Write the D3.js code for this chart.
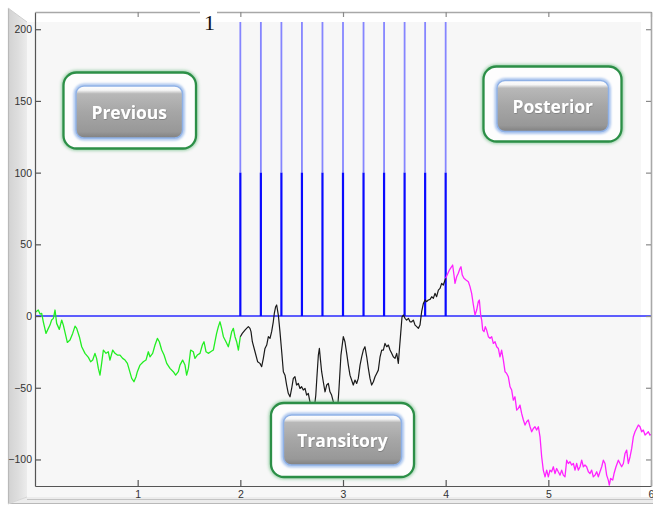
<!DOCTYPE html>
<html>
<head>
<meta charset="utf-8">
<script src="https://cdn.jsdelivr.net/npm/d3@7/dist/d3.min.js"></script>
<style>
  html, body { margin: 0; padding: 0; background: #ffffff; }
  svg { display: block; }
</style>
</head>
<body>
<svg id="chart" width="653" height="506"></svg>
<script>
// ---- data -------------------------------------------------------------
// time axis ticks and value axis ticks
const xTicks = [1, 2, 3, 4, 5, 6];
const yTicks = [-100, -50, 0, 50, 100, 150, 200];

// stimulus pulses (time of each pulse) and the pulse amplitude
const pulseTimes = [2.0, 2.2, 2.4, 2.6, 2.8, 3.0, 3.2, 3.4, 3.6, 3.8, 4.0];
const pulseLevel = 100;

// signal before the stimulation window  [time, value]
const previousTrace = [
  [0.00, 2.0], [0.01, 3.0], [0.032, 4.2], [0.049, 1.4], [0.065, 1.9], [0.081, -4.0],
  [0.107, -12.1], [0.13, -8.6], [0.146, -6.3], [0.162, -2.8], [0.179, -1.6], [0.195, 4.2],
  [0.211, -5.1], [0.237, -9.3], [0.26, -2.8], [0.276, -6.3], [0.302, -14.4], [0.315, -18.4],
  [0.341, -16.7], [0.367, -12.1], [0.39, -7.0], [0.406, -8.6], [0.432, -14.4], [0.455, -21.4],
  [0.487, -26.0], [0.52, -28.8], [0.542, -31.9], [0.562, -30.7], [0.584, -26.0], [0.60, -29.5],
  [0.617, -36.5], [0.633, -41.2], [0.649, -33.0], [0.666, -23.7], [0.692, -26.0], [0.714, -24.9],
  [0.73, -30.7], [0.757, -23.7], [0.779, -26.0], [0.802, -27.2], [0.828, -27.2], [0.854, -29.5],
  [0.877, -30.7], [0.90, -33.0], [0.919, -37.7], [0.942, -43.5], [0.964, -45.8], [0.984, -42.3],
  [0.997, -38.8], [1.023, -34.2], [1.055, -31.9], [1.081, -30.7], [1.104, -24.9], [1.12, -28.4],
  [1.146, -26.0], [1.169, -20.2], [1.192, -15.6], [1.211, -17.9], [1.234, -23.7], [1.257, -27.2],
  [1.283, -33.0], [1.315, -36.5], [1.347, -38.8], [1.37, -41.2], [1.396, -38.8], [1.412, -34.2],
  [1.438, -30.7], [1.461, -34.2], [1.477, -41.2], [1.494, -36.5], [1.516, -23.7], [1.542, -24.9],
  [1.558, -29.5], [1.581, -27.2], [1.607, -26.0], [1.63, -20.2], [1.646, -17.9], [1.666, -24.9],
  [1.688, -26.0], [1.711, -24.9], [1.737, -23.7], [1.753, -17.9], [1.769, -12.1], [1.786, -7.4],
  [1.802, -4.0], [1.818, -8.6], [1.835, -14.4], [1.86, -17.9], [1.883, -21.4], [1.899, -16.7],
  [1.916, -10.9], [1.932, -8.6], [1.948, -14.4], [1.964, -17.9], [1.981, -23.7], [2.0, -14.4]
];

// signal during the stimulation window
const transitoryTrace = [
  [2.0, -14.4], [2.019, -12.1], [2.045, -9.8], [2.061, -8.6], [2.078, -7.4], [2.094, -8.6],
  [2.104, -10.9], [2.117, -17.9], [2.143, -24.9], [2.169, -31.9], [2.191, -33.0], [2.208, -35.3],
  [2.224, -29.5], [2.24, -22.6], [2.257, -20.2], [2.273, -14.4], [2.289, -15.6], [2.305, -10.9],
  [2.321, -4.0], [2.331, 1.9], [2.344, 6.5], [2.354, 7.7], [2.37, 0.7], [2.386, -10.9],
  [2.403, -24.9], [2.419, -38.8], [2.435, -41.2], [2.451, -48.1], [2.467, -53.9], [2.484, -56.3],
  [2.50, -50.5], [2.516, -43.5], [2.532, -42.3], [2.548, -48.1], [2.565, -47.0], [2.581, -50.5],
  [2.597, -49.3], [2.613, -51.6], [2.63, -50.5], [2.646, -55.1], [2.662, -53.9], [2.678, -59.8],
  [2.695, -62.1], [2.705, -65.6], [2.715, -68.0], [2.735, -55.1], [2.745, -43.5], [2.76, -27.2],
  [2.77, -22.6], [2.779, -29.5], [2.792, -38.8], [2.808, -45.8], [2.825, -52.8], [2.841, -48.1],
  [2.857, -47.0], [2.873, -52.8], [2.889, -55.1], [2.906, -59.8], [2.922, -65.6], [2.932, -69.0],
  [2.948, -64.4], [2.961, -50.5], [2.98, -27.2], [3.003, -14.4], [3.019, -17.9], [3.036, -26.0],
  [3.052, -34.2], [3.068, -41.2], [3.084, -44.6], [3.10, -48.1], [3.117, -44.6], [3.133, -47.0],
  [3.149, -43.5], [3.166, -34.2], [3.182, -28.4], [3.198, -23.7], [3.214, -21.4], [3.231, -28.4],
  [3.247, -36.5], [3.263, -43.5], [3.279, -48.1], [3.296, -45.8], [3.312, -42.3], [3.328, -40.0],
  [3.344, -37.7], [3.361, -28.4], [3.377, -23.7], [3.393, -23.7], [3.409, -19.1], [3.426, -21.4],
  [3.442, -20.2], [3.458, -23.7], [3.474, -26.0], [3.49, -28.4], [3.507, -29.5], [3.523, -26.0],
  [3.539, -33.0], [3.549, -23.7], [3.562, -12.1], [3.575, -0.5], [3.588, 0.7], [3.604, -1.6],
  [3.62, -2.8], [3.637, -1.6], [3.653, -4.0], [3.669, -4.0], [3.685, -2.8], [3.702, -6.3],
  [3.718, -7.4], [3.734, -8.6], [3.75, -6.3], [3.766, 3.0], [3.783, 8.8], [3.799, 11.2],
  [3.815, 10.0], [3.831, 11.2], [3.848, 11.6], [3.864, 13.5], [3.88, 12.3], [3.896, 15.8],
  [3.912, 13.5], [3.929, 18.1], [3.945, 19.3], [3.961, 22.8], [3.977, 21.6], [3.994, 25.1],
  [4.0, 26.3]
];

// signal after the stimulation window
const posteriorTrace = [
  [4.0, 26.3], [4.036, 32.1], [4.058, 34.4], [4.068, 35.6], [4.081, 28.6], [4.091, 22.8],
  [4.107, 27.4], [4.123, 29.8], [4.14, 33.3], [4.149, 34.4], [4.162, 28.6], [4.178, 26.3],
  [4.198, 25.1], [4.221, 23.9], [4.237, 20.5], [4.253, 15.8], [4.27, 7.7], [4.286, 0.7],
  [4.302, 4.2], [4.318, 10.0], [4.328, 11.2], [4.341, 0.7], [4.351, -2.8], [4.361, -9.8],
  [4.374, -10.9], [4.386, -7.4], [4.399, -9.8], [4.416, -14.4], [4.432, -15.6], [4.448, -14.4],
  [4.464, -19.1], [4.481, -17.9], [4.497, -21.4], [4.513, -22.6], [4.529, -28.4], [4.545, -23.7],
  [4.562, -30.7], [4.578, -38.8], [4.594, -40.0], [4.61, -42.3], [4.627, -49.3], [4.643, -51.6],
  [4.659, -58.6], [4.675, -56.3], [4.692, -65.6], [4.708, -64.4], [4.724, -62.1], [4.74, -67.9],
  [4.757, -72.5], [4.773, -76.0], [4.789, -73.7], [4.805, -72.5], [4.822, -77.2], [4.838, -80.7],
  [4.854, -78.4], [4.87, -77.2], [4.886, -79.5], [4.903, -77.2], [4.919, -84.2], [4.935, -98.1],
  [4.951, -107.4], [4.968, -112.1], [4.984, -107.4], [5.0, -112.1], [5.016, -107.4], [5.032, -108.6],
  [5.049, -105.1], [5.065, -109.8], [5.081, -106.3], [5.097, -108.6], [5.114, -110.9], [5.13, -107.4],
  [5.146, -110.9], [5.162, -112.1], [5.179, -100.5], [5.195, -102.8], [5.211, -101.6], [5.227, -103.9],
  [5.244, -102.8], [5.26, -107.4], [5.276, -102.8], [5.292, -107.4], [5.309, -105.1], [5.325, -100.5],
  [5.341, -105.1], [5.357, -103.9], [5.373, -105.1], [5.39, -108.6], [5.406, -109.8], [5.422, -107.4],
  [5.438, -112.1], [5.455, -110.9], [5.471, -108.6], [5.487, -112.1], [5.503, -108.6], [5.52, -105.1],
  [5.536, -100.5], [5.552, -102.8], [5.568, -110.9], [5.584, -114.4], [5.594, -117.9], [5.607, -113.2],
  [5.627, -114.4], [5.64, -109.8], [5.659, -105.1], [5.682, -100.5], [5.698, -102.8], [5.714, -105.1],
  [5.731, -102.8], [5.747, -95.8], [5.763, -93.5], [5.779, -102.8], [5.796, -98.1], [5.812, -92.3],
  [5.828, -84.2], [5.844, -80.7], [5.86, -78.4], [5.877, -76.0], [5.893, -77.2], [5.909, -80.7],
  [5.925, -79.5], [5.942, -83.0], [5.958, -81.9], [5.974, -80.7], [5.99, -83.0], [6.0, -82.5]
];

// phase labels
const phaseLabels = ["Previous", "Transitory", "Posterior"];
const panelNumber = "1";

// ---- drawing ------------------------------------------------------------
const svg = d3.select("#chart");
const W = 653, H = 506;

const x = d3.scaleLinear().domain([0, 6]).range([35, 651]);
const y = d3.scaleLinear().domain([-118.5, 212]).range([486, 12]);

const defs = svg.append("defs");

// frame gradient
const bevelGrad = defs.append("linearGradient").attr("id", "bevel")
  .attr("x1", 0).attr("x2", 1).attr("y1", 0).attr("y2", 0);
bevelGrad.append("stop").attr("offset", "0%").attr("stop-color", "#d2d2d2");
bevelGrad.append("stop").attr("offset", "55%").attr("stop-color", "#dedede");
bevelGrad.append("stop").attr("offset", "100%").attr("stop-color", "#ececec");

// glossy button body
const btnGrad = defs.append("linearGradient").attr("id", "btnBody")
  .attr("x1", 0).attr("x2", 0).attr("y1", 0).attr("y2", 1);
btnGrad.append("stop").attr("offset", "0%").attr("stop-color", "#ffffff");
btnGrad.append("stop").attr("offset", "8%").attr("stop-color", "#f6f6f6");
btnGrad.append("stop").attr("offset", "15%").attr("stop-color", "#b8b8b8");
btnGrad.append("stop").attr("offset", "50%").attr("stop-color", "#a6a6a6");
btnGrad.append("stop").attr("offset", "88%").attr("stop-color", "#989898");
btnGrad.append("stop").attr("offset", "100%").attr("stop-color", "#808080");

const glowGreen = defs.append("filter").attr("id", "glowGreen")
  .attr("x", "-20%").attr("y", "-20%").attr("width", "140%").attr("height", "140%");
glowGreen.append("feGaussianBlur").attr("stdDeviation", 1.6);

const glowBlue = defs.append("filter").attr("id", "glowBlue")
  .attr("x", "-20%").attr("y", "-20%").attr("width", "140%").attr("height", "140%");
glowBlue.append("feGaussianBlur").attr("stdDeviation", 1.2);

const txtShadow = defs.append("filter").attr("id", "txtShadow")
  .attr("x", "-10%").attr("y", "-30%").attr("width", "120%").attr("height", "160%");
txtShadow.append("feDropShadow").attr("dx", 0.4).attr("dy", 0.6)
  .attr("stdDeviation", 0.6).attr("flood-color", "#505050").attr("flood-opacity", 0.6);

defs.append("clipPath").attr("id", "plotClip")
  .append("rect")
  .attr("x", x(0)).attr("y", 22)
  .attr("width", x(6) - x(0)).attr("height", y(-118.5) - 22);

// page + figure panel
svg.append("rect").attr("width", W).attr("height", H).attr("fill", "#ffffff");
svg.append("rect").attr("x", 27).attr("y", 22).attr("width", 614).attr("height", 477)
  .attr("fill", "#f7f7f7");

// left bevel and bottom ledge of the frame
svg.append("path")
  .attr("d", "M8,8 L27,22 L27,497 L8,504 Z")
  .attr("fill", "url(#bevel)");
svg.append("path")
  .attr("d", "M8,504 L27,497 L653,497 L653,504 Z")
  .attr("fill", "#ececec");
svg.append("path")
  .attr("d", "M8.5,8 L8.5,503.5 L653,503.5")
  .attr("fill", "none").attr("stroke", "#b9b9b9").attr("stroke-width", 1.2);
svg.append("line").attr("x1", 27).attr("x2", 653).attr("y1", 499.5).attr("y2", 499.5)
  .attr("stroke", "#c4c4c4").attr("stroke-width", 1);
svg.append("line").attr("x1", 8).attr("y1", 8).attr("x2", 27).attr("y2", 22)
  .attr("stroke", "#cfcfcf").attr("stroke-width", 1);
svg.append("line").attr("x1", 8).attr("y1", 504).attr("x2", 27).attr("y2", 497)
  .attr("stroke", "#d6d6d6").attr("stroke-width", 1);

// plotted content
const plot = svg.append("g").attr("clip-path", "url(#plotClip)");

// zero baseline
plot.append("line")
  .attr("x1", x(0)).attr("x2", x(6))
  .attr("y1", y(0)).attr("y2", y(0))
  .attr("stroke", "#2a2aff").attr("stroke-width", 1.5);

// pulses: strong part up to the pulse level, faint continuation above
plot.selectAll("line.pulseHigh").data(pulseTimes).join("line")
  .attr("class", "pulseHigh")
  .attr("x1", d => x(d)).attr("x2", d => x(d))
  .attr("y1", y(pulseLevel)).attr("y2", y(y.domain()[1]))
  .attr("stroke", "#8585ff").attr("stroke-width", 1.8);
plot.selectAll("line.pulseLow").data(pulseTimes).join("line")
  .attr("class", "pulseLow")
  .attr("x1", d => x(d)).attr("x2", d => x(d))
  .attr("y1", y(0)).attr("y2", y(pulseLevel))
  .attr("stroke", "#0a0aff").attr("stroke-width", 2.2);

const line = d3.line().x(d => x(d[0])).y(d => y(d[1]));
plot.append("path").datum(previousTrace).attr("d", line)
  .attr("fill", "none").attr("stroke", "#22ee22").attr("stroke-width", 1.3)
  .attr("stroke-linejoin", "round");
plot.append("path").datum(transitoryTrace).attr("d", line)
  .attr("fill", "none").attr("stroke", "#1a1a1a").attr("stroke-width", 1.2)
  .attr("stroke-linejoin", "round");
plot.append("path").datum(posteriorTrace).attr("d", line)
  .attr("fill", "none").attr("stroke", "#ff22ff").attr("stroke-width", 1.3)
  .attr("stroke-linejoin", "round");

// axes (ticks point inward)
const axisColor = "#555555";
const fmt = d3.format("d");
const gLeft = svg.append("g").attr("transform", `translate(${x(0)},0)`)
  .call(d3.axisLeft(y).tickValues(yTicks).tickFormat(fmt)
    .tickSizeInner(-6).tickSizeOuter(0).tickPadding(3));
const gBottom = svg.append("g").attr("transform", `translate(0,${y(-118.5)})`)
  .call(d3.axisBottom(x).tickValues(xTicks).tickFormat(fmt)
    .tickSizeInner(-6).tickSizeOuter(0).tickPadding(5));
const gTop = svg.append("g").attr("transform", `translate(0,${y(212)})`)
  .call(d3.axisTop(x).tickValues(xTicks).tickSizeInner(-5).tickSizeOuter(0).tickFormat(""));
const gRight = svg.append("g").attr("transform", `translate(${x(6)},0)`)
  .call(d3.axisRight(y).tickValues(yTicks).tickSizeInner(-5).tickSizeOuter(0).tickFormat(""));

[gLeft, gBottom].forEach(g => {
  g.select(".domain").attr("stroke", axisColor).attr("stroke-width", 1.2);
  g.selectAll(".tick line").attr("stroke", axisColor).attr("stroke-width", 1.2);
  g.selectAll(".tick text")
    .attr("fill", "#333333")
    .style("font-family", "'Liberation Sans', Arial, sans-serif")
    .style("font-size", "10.5px");
});
[gTop, gRight].forEach(g => {
  g.select(".domain").attr("stroke", "#a8a8a8").attr("stroke-width", 1.6);
  g.selectAll(".tick line").attr("stroke", "#8a8a8a").attr("stroke-width", 1.2);
});

// panel number above the axes
svg.append("rect").attr("x", 200).attr("y", 4).attr("width", 17).attr("height", 16)
  .attr("fill", "#ffffff");
svg.append("text")
  .attr("x", 209.5).attr("y", 30)
  .attr("text-anchor", "middle")
  .style("font-family", "'Liberation Serif', 'Times New Roman', serif")
  .style("font-size", "22px")
  .attr("fill", "#111111")
  .text(panelNumber);

// phase buttons
const buttons = [
  { label: phaseLabels[0], outer: [63.5, 72.5, 132.5, 76], inner: [76, 86, 106.5, 52] },
  { label: phaseLabels[1], outer: [271, 403, 143, 74], inner: [283.5, 415, 118, 50] },
  { label: phaseLabels[2], outer: [483.5, 66.5, 138, 75], inner: [497, 80.5, 111.5, 51] }
];

buttons.forEach(b => {
  const g = svg.append("g");
  const [ox, oy, ow, oh] = b.outer;
  const [ix, iy, iw, ih] = b.inner;
  // green halo + frame
  g.append("rect").attr("x", ox).attr("y", oy).attr("width", ow).attr("height", oh)
    .attr("rx", 13).attr("fill", "none").attr("stroke", "#5fb877")
    .attr("stroke-width", 4.5).attr("opacity", 0.6).attr("filter", "url(#glowGreen)");
  g.append("rect").attr("x", ox).attr("y", oy).attr("width", ow).attr("height", oh)
    .attr("rx", 13).attr("fill", "#fdfdfd").attr("stroke", "#2c8f47")
    .attr("stroke-width", 2.3);
  // blue halo around the inner button
  g.append("rect").attr("x", ix - 1).attr("y", iy - 1).attr("width", iw + 2).attr("height", ih + 2)
    .attr("rx", 9).attr("fill", "none").attr("stroke", "#a9c4ee")
    .attr("stroke-width", 3).attr("filter", "url(#glowBlue)");
  g.append("rect").attr("x", ix).attr("y", iy).attr("width", iw).attr("height", ih)
    .attr("rx", 8).attr("fill", "url(#btnBody)").attr("stroke", "#8fb1e6")
    .attr("stroke-width", 1.4);
  g.append("text")
    .attr("x", ix + iw / 2).attr("y", iy + ih / 2 + 7)
    .attr("text-anchor", "middle")
    .style("font-family", "'Open Sans', 'Noto Sans', sans-serif")
    .style("font-weight", "700")
    .style("font-size", "17.5px")
    .attr("fill", "#ffffff")
    .attr("filter", "url(#txtShadow)")
    .text(b.label);
});
</script>
</body>
</html>
